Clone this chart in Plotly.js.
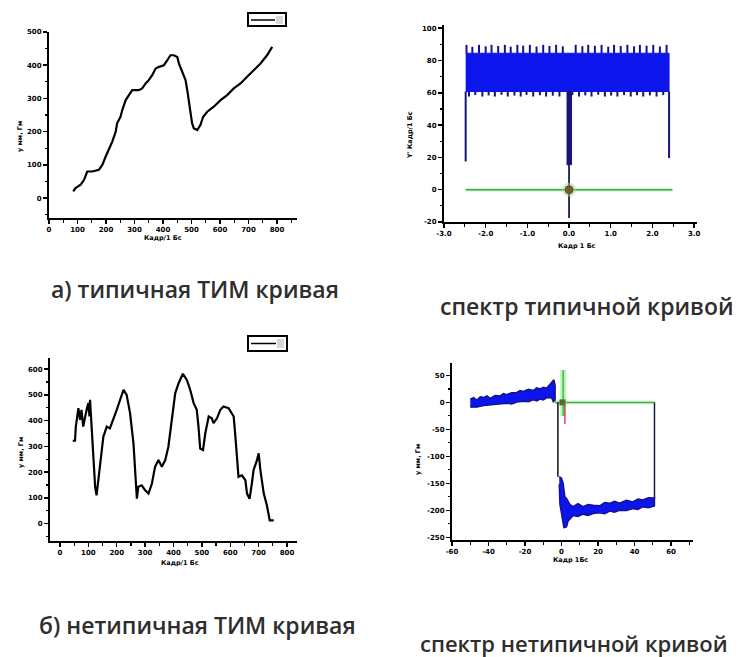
<!DOCTYPE html>
<html><head><meta charset="utf-8">
<script src="https://cdn.plot.ly/plotly-3.0.1.min.js"></script>
<style>html,body{margin:0;padding:0;background:#fff}#chart{width:748px;height:657px}</style>
</head><body><div id="chart"></div>
<script>
// ---------- Panel 1: typical curve ----------
const p1X = [85,93,111,123,134,152,175,187,199,210,222,234,239,251,257,269,280,292,315,327,339,350,362,374,386,403,415,426,438,450,456,467,479,485,494,502,508,520,531,541,555,578,602,625,648,672,695,718,742,765,783];
const p1Y = [20,30,40,55,80,80,85,100,125,145,170,200,225,245,265,295,310,325,325,330,345,355,370,390,395,400,415,430,430,425,405,380,355,325,275,225,210,205,220,245,260,275,295,310,330,345,365,385,405,430,455];
const p1XTicks = [0,100,200,300,400,500,600,700,800];
const p1YTicks = [0,100,200,300,400,500];

// ---------- Panel 3: atypical curve ----------
const p3X = [45,53,56,65,71,76,82,88,94,100,104,106,112,118,124,129,135,141,147,153,159,165,176,188,200,212,224,235,247,259,265,271,276,288,300,312,324,335,347,359,371,382,394,400,406,418,433,447,459,471,482,488,494,504,512,524,535,541,553,565,576,594,612,618,624,629,641,653,659,668,676,682,694,700,706,718,729,739,753];
const p3Y = [322,322,377,448,403,442,377,416,442,468,416,481,377,247,143,110,169,234,273,338,357,377,370,403,442,481,519,500,429,312,208,97,143,149,130,117,156,221,247,221,247,299,403,455,506,545,582,558,519,468,442,377,292,286,351,416,409,390,409,442,455,448,416,338,260,182,188,169,117,97,156,208,247,273,208,117,71,13,13];
const p3XTicks = [0,100,200,300,400,500,600,700,800];
const p3YTicks = [0,100,200,300,400,500,600];

// ---------- Panel 2: spectrum of typical curve ----------
const s1BandX = [-2.48, 2.40, 2.40, -2.48];
const s1BandY = [84.5, 84.5, 60.8, 60.8];
const s1TopTeethX = [-2.46,-2.32,-2.16,-2.00,-1.86,-1.70,-1.54,-1.40,-1.24,-1.10,-0.94,-0.78,-0.62,-0.47,-0.31,-0.15,0.16,0.32,0.46,0.62,0.78,0.94,1.08,1.24,1.40,1.56,1.70,1.86,2.02,2.18,2.34];
const s1TopTeethY = [89.7,88.5,89.7,88.8,89.7,89.0,89.7,88.6,89.7,89.2,89.7,88.7,89.7,89.0,89.7,88.8,89.7,88.9,89.7,89.1,89.7,88.6,89.7,89.0,89.7,88.8,89.7,89.2,89.7,88.7,89.7];
const s1BotTeethX = [-2.40,-2.25,-2.08,-1.93,-1.78,-1.62,-1.47,-1.31,-1.16,-1.02,-0.86,-0.70,-0.55,-0.39,-0.23,0.08,0.24,0.39,0.54,0.70,0.86,1.01,1.16,1.32,1.48,1.63,1.78,1.94,2.10,2.26];
const s1BotTeethY = [57.7,58.6,57.7,58.4,57.7,58.8,57.7,58.3,57.7,58.7,57.7,58.5,57.7,58.2,57.7,58.6,57.7,58.4,57.7,58.8,57.7,58.3,57.7,58.6,57.7,58.5,57.7,58.4,57.7,58.6];
const s1EdgeX = [-2.48, 2.40];
const s1EdgeLow = [17.5, 19.6];
const s1SpikeX = [-0.06, 0.06, 0.06, -0.06];
const s1SpikeY = [60.8, 60.8, 15.5, 15.5];
const s1TailX = [0, 0];
const s1TailY = [15.5, -17.5];
const s1ZeroX = [-2.48, 2.48];
const s1ZeroY = [0, 0];
const s1DotX = [0], s1DotY = [0];
const s1XTicks = [-3,-2,-1,0,1,2,3];
const s1XText = ['-3.0','-2.0','-1.0','0.0','1.0','2.0','3.0'];
const s1YTicks = [-20,0,20,40,60,80,100];

// ---------- Panel 4: spectrum of atypical curve ----------
const s2LeftUpX = [-50,-48.2,-46.4,-44.5,-42.7,-40.9,-39.1,-36.4,-33.6,-31.8,-30,-27.3,-24.5,-22.7,-20.9,-18.2,-15.5,-13.6,-11.8,-10,-8.2,-6.8,-5.5,-4.2,-3.5];
const s2LeftUpY = [6,9,4.5,10.5,9,12,7.5,13,12,16.5,14.5,18,18.5,22,20.5,24.5,22,27,25,28,26.5,31,37,42,31];
const s2LeftLowX = [-3.5,-4.5,-5.5,-8.2,-10,-11.8,-13.6,-15.5,-18.2,-20.9,-24.5,-27.3,-30,-33.6,-36.4,-39.1,-42.7,-46.4,-50];
const s2LeftLowY = [4,1,8.5,8.5,4.5,6,2.5,4.8,1,2.2,0.5,-3,-1.5,-2.7,-5,-5.8,-6,-8.8,-8.8];
const s2RightUpX = [-1.27,0,0.91,1.82,2.73,4.55,6.36,9,11.8,14.5,17.3,20.9,23.6,26.4,29,31.8,35.5,39.1,41.8,44.5,47.5,50.9];
const s2RightUpY = [-137.6,-140.6,-149.9,-174.7,-177.8,-189,-193,-187.5,-193,-189,-190.5,-191.5,-185.5,-187,-183,-186.8,-181.5,-184.3,-179,-180.6,-176.5,-177];
const s2RightLowX = [50.9,47.5,44.5,41.8,39.1,35.5,31.8,29,26.4,23.6,20.9,17.3,14.5,11.8,9,6.36,3.64,2.73,1.27,-0.91,-1.27];
const s2RightLowY = [-192,-195.5,-193.5,-198.5,-196.7,-200.5,-200,-203.5,-201.6,-206.5,-204.7,-206,-209.5,-207.2,-211.5,-209.7,-219.6,-230.8,-232,-188.6,-151.5];
const s2DropX = [-2.0, -2.0], s2DropY = [0, -137.6];
const s2RightEdgeX = [50.9, 50.9], s2RightEdgeY = [-178.4, 0];
const s2ZeroX = [-3.6, 50.9], s2ZeroY = [0, 0];
const s2GreenX = [0.9, 0.9], s2GreenY = [60, -25];
const s2RedX = [1.8, 1.8], s2RedY = [-5, -40];
const s2DotX = [0.5], s2DotY = [0];
const s2XTicks = [-60,-40,-20,0,20,40,60];
const s2YTicks = [-250,-200,-150,-100,-50,0,50];

// ---------- helpers ----------
const W = 748, H = 657;
const px = v => v / W, py = v => 1 - v / H;
const tickFont = {family:'DejaVu Sans, Liberation Sans, sans-serif', size:7, color:'#000', weight:'bold'};
function ax(o){
  return Object.assign({showline:true, linecolor:'#000', linewidth:2, ticks:'outside', ticklen:4,
    tickwidth:1.5, tickcolor:'#000', showgrid:false, zeroline:false, mirror:false, tickfont:tickFont,
    fixedrange:true, tickmode:'array'}, o);
}
function minor(d){ return {ticks:'outside', ticklen:2.5, tickwidth:1.2, tickcolor:'#000', dtick:d, showgrid:false}; }
function segs(xs, y0, ys){ const X=[],Y=[]; xs.forEach((v,i)=>{X.push(v,v,null);Y.push(y0,ys[i],null);}); return {X,Y}; }

const navy = '#15157a', blue = '#0c16ec';
const topT = segs(s1TopTeethX, 84.5, s1TopTeethY);
const botT = segs(s1BotTeethX, 60.8, s1BotTeethY);
const edges = {X:[], Y:[]};
s1EdgeX.forEach((v,i)=>{edges.X.push(v,v,null); edges.Y.push(60.8, s1EdgeLow[i], null);});

const traces = [
  {x:p1X, y:p1Y, xaxis:'x', yaxis:'y', mode:'lines', line:{color:'#000', width:2.2}},
  {x:p3X, y:p3Y, xaxis:'x3', yaxis:'y3', mode:'lines', line:{color:'#000', width:2.2}},
  {x:s1ZeroX, y:s1ZeroY, xaxis:'x2', yaxis:'y2', mode:'lines', line:{color:'rgba(160,235,160,0.4)', width:4}},
  {x:s1ZeroX, y:s1ZeroY, xaxis:'x2', yaxis:'y2', mode:'lines', line:{color:'#3aa844', width:1.5}},
  {x:s1BandX, y:s1BandY, xaxis:'x2', yaxis:'y2', mode:'lines', fill:'toself', fillcolor:blue, line:{color:blue, width:1}},
  {x:topT.X, y:topT.Y, xaxis:'x2', yaxis:'y2', mode:'lines', line:{color:'#10109a', width:2}},
  {x:botT.X, y:botT.Y, xaxis:'x2', yaxis:'y2', mode:'lines', line:{color:navy, width:2}},
  {x:edges.X, y:edges.Y, xaxis:'x2', yaxis:'y2', mode:'lines', line:{color:navy, width:2}},
  {x:s1SpikeX, y:s1SpikeY, xaxis:'x2', yaxis:'y2', mode:'lines', fill:'toself', fillcolor:navy, line:{color:navy, width:1}},
  {x:s1TailX, y:s1TailY, xaxis:'x2', yaxis:'y2', mode:'lines', line:{color:'#1a1a50', width:1.8}},
  {x:s1DotX, y:s1DotY, xaxis:'x2', yaxis:'y2', mode:'markers', marker:{color:'rgba(150,225,150,0.5)', size:14}},
  {x:s1DotX, y:s1DotY, xaxis:'x2', yaxis:'y2', mode:'markers', marker:{color:'#6a6428', size:8, line:{color:'#8a3a2a', width:1}}},
  {x:s2ZeroX, y:s2ZeroY, xaxis:'x4', yaxis:'y4', mode:'lines', line:{color:'rgba(160,235,160,0.4)', width:4}},
  {x:s2ZeroX, y:s2ZeroY, xaxis:'x4', yaxis:'y4', mode:'lines', line:{color:'#3cb044', width:1.5}},
  {x:s2RightEdgeX, y:s2RightEdgeY, xaxis:'x4', yaxis:'y4', mode:'lines', line:{color:'#1a1a40', width:1.5}},
  {x:s2DropX, y:s2DropY, xaxis:'x4', yaxis:'y4', mode:'lines', line:{color:'#111', width:1.5}},
  {x:s2LeftUpX.concat(s2LeftLowX), y:s2LeftUpY.concat(s2LeftLowY), xaxis:'x4', yaxis:'y4', mode:'lines', fill:'toself', fillcolor:blue, line:{color:'#12128a', width:1.4}},
  {x:s2RightUpX.concat(s2RightLowX), y:s2RightUpY.concat(s2RightLowY), xaxis:'x4', yaxis:'y4', mode:'lines', fill:'toself', fillcolor:blue, line:{color:'#12128a', width:1.4}},
  {x:s2GreenX, y:s2GreenY, xaxis:'x4', yaxis:'y4', mode:'lines', line:{color:'rgba(120,235,120,0.5)', width:6}},
  {x:s2GreenX, y:s2GreenY, xaxis:'x4', yaxis:'y4', mode:'lines', line:{color:'#3cc03c', width:1.5}},
  {x:s2RedX, y:s2RedY, xaxis:'x4', yaxis:'y4', mode:'lines', line:{color:'#e0506a', width:1.6}},
  {x:s2DotX, y:s2DotY, xaxis:'x4', yaxis:'y4', mode:'markers', marker:{symbol:'square', color:'#5a6a2a', size:6}}
];
traces.forEach(t=>{ t.hoverinfo='skip'; });

const layout = {
  width:W, height:H, margin:{l:0,r:0,t:0,b:0}, paper_bgcolor:'#fff', plot_bgcolor:'rgba(0,0,0,0)',
  showlegend:false,
  xaxis: ax({domain:[px(49),px(297)], range:[0,870], anchor:'y', tickvals:p1XTicks, ticktext:p1XTicks.map(String), minor:minor(50)}),
  yaxis: ax({domain:[py(218),py(32)], range:[-60,500], anchor:'x', tickvals:p1YTicks, ticktext:p1YTicks.map(String), minor:minor(50)}),
  xaxis2: ax({domain:[px(444),px(697)], range:[-3,3.07], anchor:'y2', tickvals:s1XTicks, ticktext:s1XText, minor:minor(0.5)}),
  yaxis2: ax({domain:[py(222),py(25)], range:[-20,102], anchor:'x2', tickvals:s1YTicks, ticktext:s1YTicks.map(String), minor:minor(10)}),
  xaxis3: ax({domain:[px(50),px(297)], range:[-35,835], anchor:'y3', tickvals:p3XTicks, ticktext:p3XTicks.map(String), minor:minor(50)}),
  yaxis3: ax({domain:[py(541),py(358)], range:[-67,643], anchor:'x3', tickvals:p3YTicks, ticktext:p3YTicks.map(String), minor:minor(50)}),
  xaxis4: ax({domain:[px(452),px(693)], range:[-60,72], anchor:'y4', tickvals:s2XTicks, ticktext:s2XTicks.map(String), minor:minor(10)}),
  yaxis4: ax({domain:[py(540),py(363)], range:[-255,73], anchor:'x4', tickvals:s2YTicks, ticktext:s2YTicks.map(String), minor:minor(25)}),
  shapes: [
    {type:'rect', xref:'paper', yref:'paper', x0:px(248), x1:px(286), y0:py(26), y1:py(13), line:{color:'#000', width:2}},
    {type:'line', xref:'paper', yref:'paper', x0:px(251), x1:px(275), y0:py(20), y1:py(20), line:{color:'#000', width:1.5}},
    {type:'rect', xref:'paper', yref:'paper', x0:px(276), x1:px(283), y0:py(24), y1:py(16), line:{width:0}, fillcolor:'#d8d8d8'},
    {type:'rect', xref:'paper', yref:'paper', x0:px(248), x1:px(287), y0:py(351), y1:py(336), line:{color:'#000', width:2}},
    {type:'line', xref:'paper', yref:'paper', x0:px(251), x1:px(276), y0:py(343.5), y1:py(343.5), line:{color:'#000', width:1.5}},
    {type:'rect', xref:'paper', yref:'paper', x0:px(277), x1:px(284), y0:py(348), y1:py(339), line:{width:0}, fillcolor:'#d8d8d8'}
  ],
  annotations: []
};
const titleFont = {family:'DejaVu Sans, Liberation Sans, sans-serif', size:6.5, color:'#000', weight:'bold'};
function ann(text, x, y, angle){ layout.annotations.push({text, x:px(x), y:py(y), xref:'paper', yref:'paper', showarrow:false, textangle:angle||0, font:titleFont, xanchor:'center', yanchor:'middle'}); }
ann('Кадр/1 Бс', 163, 238);
ann('у мм, Гм', 20, 137, -90);
ann('Кадр 1 Бс', 577, 246);
ann('Y\' Кадр/1 Бс', 410, 135, -90);
ann('Кадр/1 Бс', 180, 563);
ann('у мм, Гм', 21, 453, -90);
ann('Кадр 1Бс', 570, 560);
ann('у мм, Гм', 418, 460, -90);

function cap(text, x, y, size){ layout.annotations.push({text, x:px(x), y:py(y), xref:'paper', yref:'paper', showarrow:false,
  font:{family:'Open Sans, Noto Sans, sans-serif', size:size, color:'#2e2e2e', weight:600}, xanchor:'center', yanchor:'middle'}); }
cap('а) типичная ТИМ кривая', 195, 289, 23);
cap('спектр типичной кривой', 587, 306, 23);
cap('б) нетипичная ТИМ кривая', 197, 625, 23);
cap('спектр нетипичной кривой', 574, 643, 22);

Plotly.newPlot('chart', traces, layout, {staticPlot:true, displayModeBar:false});
</script></body></html>
